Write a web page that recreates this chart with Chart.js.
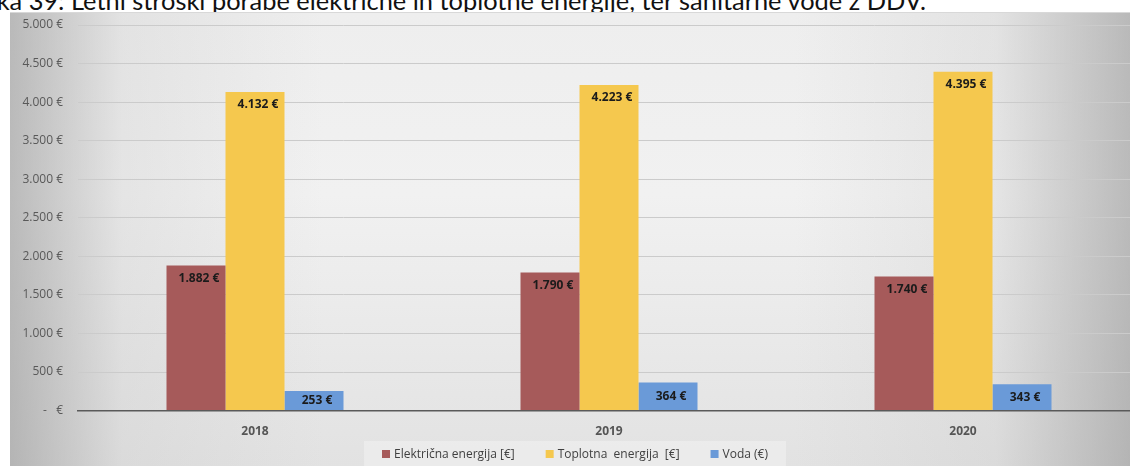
<!DOCTYPE html>
<html>
<head>
<meta charset="utf-8">
<script src="https://cdn.jsdelivr.net/npm/chart.js@4/dist/chart.umd.min.js"></script>
<style>
  html, body { margin: 0; padding: 0; background: #fff; overflow: hidden; }
  body { width: 1130px; height: 466px; position: relative; }
  #caption {
    position: absolute; left: -29px; top: -12px;
    font-family: Lato, "Open Sans", sans-serif; font-size: 25.4px; color: #111;
    white-space: nowrap; line-height: 25px;
  }
  #box {
    position: absolute; left: 10px; top: 12px; width: 1120px; height: 454px;
    overflow: hidden;
    border-top: 1px solid #d8d8d8;
    background:
      linear-gradient(to right, rgba(150,150,150,0.6) 0%, rgba(200,200,200,0.3) 10%, rgba(255,255,255,0) 28%, rgba(255,255,255,0) 70%, rgba(200,200,200,0.3) 88%, rgba(150,150,150,0.6) 100%),
      linear-gradient(to bottom, #eeeeee 0%, #f1f1f1 40%, #e2e2e2 100%);
  }
  #wrap { position: absolute; left: 0; top: 0; width: 1130px; height: 454px; }
</style>
</head>
<body>
<div id="caption">Slika 39: Letni stroški porabe električne in toplotne energije, ter sanitarne vode z DDV.</div>
<div id="box">
  <div id="wrap"><canvas id="costChart"></canvas></div>
</div>
<script>
const years = ["2018", "2019", "2020"];
const electricity = [1882, 1790, 1740];
const heating = [4132, 4223, 4395];
const water = [253, 364, 343];
const seriesNames = ["Električna energija [€]", "Toplotna  energija  [€]", "Voda (€)"];
const seriesColors = ["#a65a5a", "#f5c84e", "#6a9ad8"];
const yTicks = [0, 500, 1000, 1500, 2000, 2500, 3000, 3500, 4000, 4500, 5000];

const FONT = "'Open Sans', Lato, sans-serif";

function euro(v) {
    return String(v).replace(/\B(?=(\d{3})+(?!\d))/g, ".");
}

// value labels at the top of each bar, centred in short bars
const barLabels = {
    id: "barLabels",
    afterDatasetsDraw(chart) {
        let ctx = chart.ctx;
        ctx.save();
        ctx.font = "bold 12px " + FONT;
        ctx.fillStyle = "#1b1b1b";
        ctx.textAlign = "center";
        ctx.textBaseline = "middle";
        chart.data.datasets.forEach((ds, i) => {
            chart.getDatasetMeta(i).data.forEach((bar, j) => {
                let h = bar.base - bar.y;
                let y = h < 30 ? (bar.y + bar.base) / 2 : bar.y + 13;
                ctx.fillText(euro(ds.data[j]) + " €", bar.x + 3, y);
            });
        });
        ctx.restore();
    }
};

// legend row under the axis, drawn by hand for the wide item spacing
const bottomLegend = {
    id: "bottomLegend",
    afterDraw(chart) {
        let ctx = chart.ctx;
        let box = 8, gap = 4, spacing = 31;
        ctx.save();
        ctx.font = "12px " + FONT;
        let widths = chart.data.datasets.map(ds => box + gap + ctx.measureText(ds.label).width);
        let total = widths.reduce((a, b) => a + b, 0) + spacing * (widths.length - 1);
        let x = (chart.width - total) / 2;
        let y = chart.height - 13;
        ctx.fillStyle = "rgba(255,255,255,0.3)";
        ctx.fillRect(x - 18, y - 13, total + 36, 30);
        ctx.textBaseline = "middle";
        chart.data.datasets.forEach((ds, i) => {
            ctx.fillStyle = ds.backgroundColor;
            ctx.fillRect(x, y - box / 2, box, box);
            ctx.fillStyle = "#404040";
            ctx.fillText(ds.label, x + box + gap, y + 1);
            x += widths[i] + spacing;
        });
        ctx.restore();
    }
};

new Chart(document.getElementById("costChart"), {
    type: "bar",
    data: {
        labels: years,
        datasets: [
            { label: seriesNames[0], data: electricity, backgroundColor: seriesColors[0] },
            { label: seriesNames[1], data: heating, backgroundColor: seriesColors[1] },
            { label: seriesNames[2], data: water, backgroundColor: seriesColors[2] }
        ]
    },
    options: {
        responsive: true,
        maintainAspectRatio: false,
        animation: false,
        layout: { padding: { top: 12, right: 0, bottom: 14, left: 0 } },
        datasets: { bar: { categoryPercentage: 0.5, barPercentage: 1 } },
        plugins: {
            tooltip: { enabled: false },
            legend: { display: false }
        },
        scales: {
            x: {
                grid: { display: false, drawTicks: false },
                border: { display: true, color: "#5a5a5a", width: 1.5 },
                ticks: {
                    padding: 14, color: "#555",
                    font: { family: FONT, size: 12, weight: "bold" }
                }
            },
            y: {
                min: 0, max: 5000,
                afterBuildTicks(axis) {
                    axis.ticks = yTicks.map(v => ({ value: v }));
                },
                afterFit(axis) { axis.width = 68; },
                grid: { color: "#cbcbcb", lineWidth: 1, drawTicks: true, tickLength: 13, tickColor: "rgba(0,0,0,0)" },
                border: { display: false },
                ticks: {
                    padding: 2, color: "#595959",
                    font: { family: FONT, size: 12 },
                    callback: v => v === 0 ? "-   €" : euro(v) + " €"
                }
            }
        }
    },
    plugins: [barLabels, bottomLegend]
});
</script>
</body>
</html>
